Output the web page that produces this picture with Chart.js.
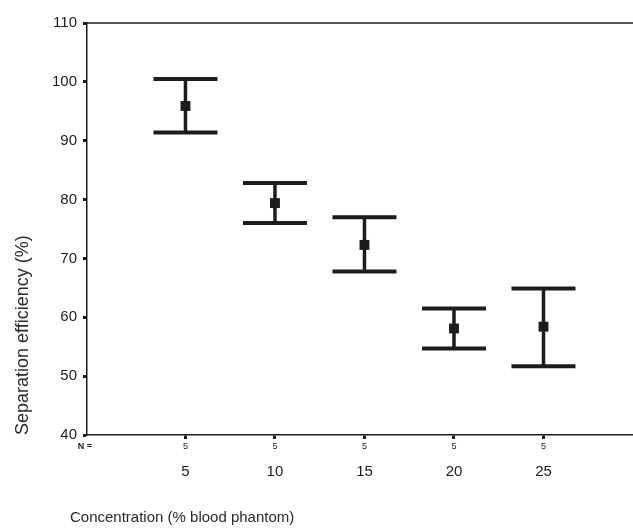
<!DOCTYPE html>
<html>
<head>
<meta charset="utf-8">
<script src="https://cdn.jsdelivr.net/npm/chart.js@4/dist/chart.umd.min.js"></script>
<style>
  body { margin: 0; background: #fff; }
  #wrap { width: 633px; height: 530px; position: relative; }
</style>
</head>
<body>
<div id="wrap"><canvas id="chart"></canvas></div>
<script>
// valores
const concentrations = [5, 10, 15, 20, 25];
const meanEff  = [95.9, 79.4, 72.3, 58.1, 58.4];
const upperEff = [100.5, 82.8, 77.0, 61.5, 64.9];
const lowerEff = [91.4, 76.0, 67.8, 54.7, 51.7];
const nCounts  = [5, 5, 5, 5, 5];

const ink = '#1c1c1c';
const fontFam = '"Liberation Sans", Arial, sans-serif';

// barras de error + fila N + título del eje x
const errorBars = {
    id: 'errorBars',
    beforeDatasetsDraw(chart) {
        const { ctx, scales: { x, y } } = chart;
        ctx.save();
        ctx.strokeStyle = ink;
        ctx.lineCap = 'butt';
        concentrations.forEach((c, i) => {
            const px = x.getPixelForValue(c);
            const top = y.getPixelForValue(upperEff[i]);
            const bot = y.getPixelForValue(lowerEff[i]);
            ctx.lineWidth = 3.5;
            ctx.beginPath();
            ctx.moveTo(px, top);
            ctx.lineTo(px, bot);
            ctx.stroke();
            ctx.lineWidth = 4;
            ctx.beginPath();
            ctx.moveTo(px - 32, top);
            ctx.lineTo(px + 32, top);
            ctx.moveTo(px - 32, bot);
            ctx.lineTo(px + 32, bot);
            ctx.stroke();
        });
        ctx.restore();
    },
    afterDraw(chart) {
        const { ctx, chartArea, scales: { x } } = chart;
        ctx.save();
        // línea superior
        ctx.strokeStyle = ink;
        ctx.lineWidth = 1.5;
        ctx.beginPath();
        ctx.moveTo(chartArea.left, chartArea.top);
        ctx.lineTo(chart.width, chartArea.top);
        ctx.stroke();

        ctx.fillStyle = ink;
        ctx.textBaseline = 'middle';
        ctx.font = 'bold 9px ' + fontFam;
        ctx.textAlign = 'center';
        ctx.fillText('N =', chartArea.left - 2, chartArea.bottom + 12);
        ctx.font = '9px ' + fontFam;
        concentrations.forEach((c, i) => {
            ctx.fillText(String(nCounts[i]), x.getPixelForValue(c), chartArea.bottom + 12);
        });

        // título eje x (empieza a la izquierda del eje y)
        ctx.fillStyle = '#2a2a2a';
        ctx.font = '15px ' + fontFam;
        ctx.textAlign = 'left';
        ctx.fillText('Concentration (% blood phantom)', 70, 518);
        ctx.restore();
    }
};

new Chart(document.getElementById('chart'), {
    type: 'scatter',
    data: {
        datasets: [{
            data: concentrations.map((c, i) => ({ x: c, y: meanEff[i] })),
            pointStyle: 'rect',
            pointRadius: 7,
            backgroundColor: ink,
            borderWidth: 0,
        }]
    },
    options: {
        responsive: true,
        maintainAspectRatio: false,
        animation: false,
        events: [],
        layout: { autoPadding: false, padding: { top: 23, left: 0, right: 0, bottom: 0 } },
        plugins: { legend: { display: false }, tooltip: { enabled: false } },
        scales: {
            x: {
                type: 'linear',
                min: -0.5,
                max: 30,
                afterBuildTicks: scale => {
                    scale.ticks = concentrations.map(v => ({ value: v }));
                },
                afterFit: scale => { scale.height = 95; },
                grid: {
                    drawOnChartArea: false,
                    drawTicks: true,
                    tickLength: 4,
                    tickWidth: 3,
                    tickColor: ink,
                },
                border: { display: true, color: ink, width: 1.5 },
                ticks: {
                    padding: 24,
                    color: ink,
                    font: { family: fontFam, size: 15 },
                    maxRotation: 0,
                },
            },
            y: {
                min: 40,
                max: 110,
                afterFit: scale => { scale.width = 87; },
                grid: {
                    drawOnChartArea: false,
                    drawTicks: true,
                    tickLength: 4,
                    tickWidth: 3,
                    tickColor: ink,
                },
                border: { display: true, color: ink, width: 1.5 },
                ticks: {
                    stepSize: 10,
                    padding: 6,
                    color: ink,
                    font: { family: fontFam, size: 15 },
                },
                title: {
                    display: true,
                    text: 'Separation efficiency (%)',
                    align: 'start',
                    color: '#2a2a2a',
                    font: { family: fontFam, size: 18 },
                    padding: { top: 12, bottom: 0 },
                },
            },
        }
    },
    plugins: [errorBars]
});
</script>
</body>
</html>
